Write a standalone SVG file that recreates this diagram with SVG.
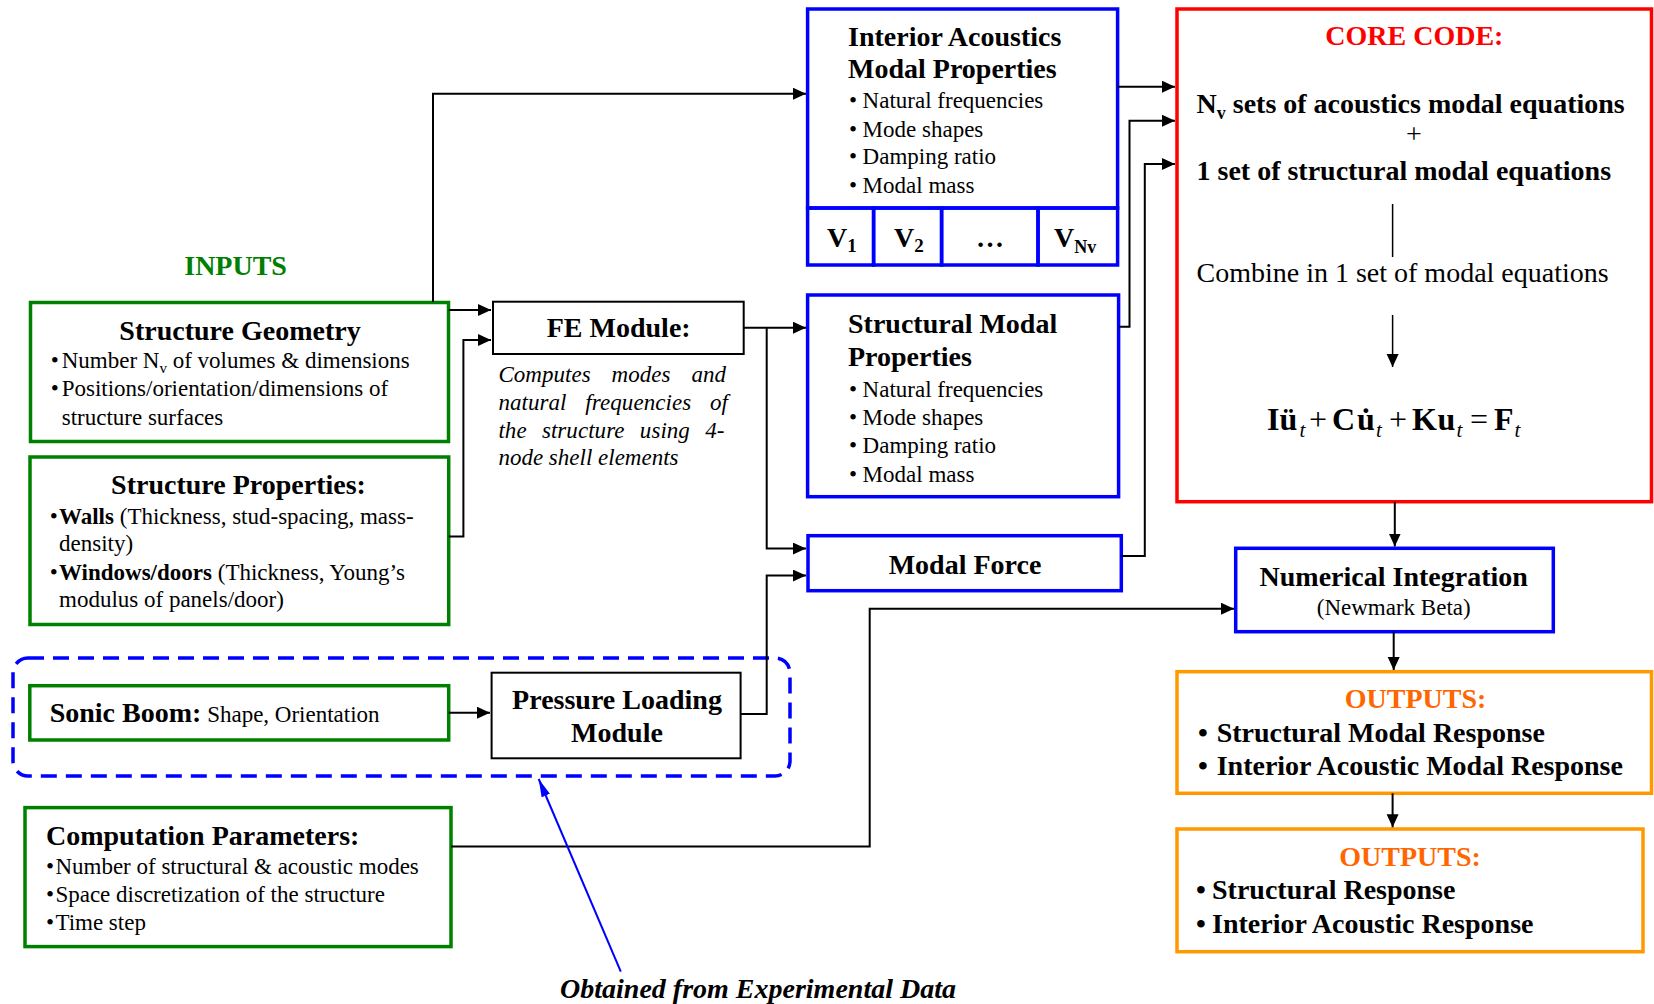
<svg xmlns="http://www.w3.org/2000/svg" width="1654" height="1004" viewBox="0 0 1654 1004">
<style>
text{font-family:"Liberation Serif","Times New Roman",serif;fill:#000}
.t{font-size:28px;font-weight:bold}
.r{font-size:23px}
.r28{font-size:28px}
.it{font-size:23px;font-style:italic}
.b{font-weight:bold}
.eq{font-size:32px;font-weight:bold}
.eo{font-size:32px}
.es{font-size:21px;font-style:italic}
.g{fill:none;stroke:#008000;stroke-width:3.5}
.bl{fill:none;stroke:#0000ff;stroke-width:3.5}
.rd{fill:none;stroke:#ff0000;stroke-width:3.5}
.or{fill:none;stroke:#ff9900;stroke-width:3.5}
.bk{fill:none;stroke:#000;stroke-width:2}
.c{fill:none;stroke:#000;stroke-width:2}
.mid{text-anchor:middle}
</style>
<defs>
<marker id="ah" markerUnits="userSpaceOnUse" markerWidth="14" markerHeight="14" refX="13" refY="6" orient="auto"><path d="M0,0 L13,6 L0,12 z" fill="#000"/></marker>
<marker id="ahb" markerUnits="userSpaceOnUse" markerWidth="20" markerHeight="12" refX="18" refY="4.5" orient="auto"><path d="M0,0 L18,4.5 L0,9 z" fill="#0000ff"/></marker>
</defs>

<text class="t mid" x="235.6" y="275" style="fill:#008000">INPUTS</text>

<g id="structure-geometry">
<rect class="g" x="30.5" y="302.5" width="418" height="139"/>
<text class="t mid" x="240" y="340">Structure Geometry</text>
<text class="r" y="368"><tspan x="50.7">•</tspan><tspan x="61.7">Number N</tspan><tspan font-size="15" dy="5">v</tspan><tspan dy="-5"> of volumes &amp; dimensions</tspan></text>
<text class="r" y="396.3"><tspan x="50.7">•</tspan><tspan x="61.7">Positions/orientation/dimensions of</tspan></text>
<text class="r" x="61.7" y="425">structure surfaces</text>
</g>

<g id="structure-properties">
<rect class="g" x="30" y="457" width="418.7" height="167.5"/>
<text class="t mid" x="238.5" y="494">Structure Properties:</text>
<text class="r" y="523.5"><tspan x="49.7">•</tspan><tspan x="59" class="b">Walls</tspan><tspan> (Thickness, stud-spacing, mass-</tspan></text>
<text class="r" x="59" y="550.8">density)</text>
<text class="r" y="579.6"><tspan x="49.7">•</tspan><tspan x="59" class="b">Windows/doors</tspan><tspan> (Thickness, Young’s</tspan></text>
<text class="r" x="59" y="607">modulus of panels/door)</text>
</g>

<g id="experimental-group">
<rect x="13" y="658" width="777" height="118" rx="15" fill="none" stroke="#0000ff" stroke-width="3.5" stroke-dasharray="16 9"/>
</g>

<g id="sonic-boom">
<rect class="g" x="29.8" y="685.7" width="418.9" height="54.3"/>
<text y="722.4"><tspan x="49.7" class="t">Sonic Boom:</tspan><tspan class="r"> Shape, Orientation</tspan></text>
</g>

<g id="computation-parameters">
<rect class="g" x="25" y="807.6" width="426" height="139"/>
<text class="t" x="46" y="844.7">Computation Parameters:</text>
<text class="r" y="873.5"><tspan x="46">•</tspan><tspan x="55.4">Number of structural &amp; acoustic modes</tspan></text>
<text class="r" y="902"><tspan x="46">•</tspan><tspan x="55.4">Space discretization of the structure</tspan></text>
<text class="r" y="930"><tspan x="46">•</tspan><tspan x="55.4">Time step</tspan></text>
</g>

<g id="fe-module">
<rect class="bk" x="493" y="301.7" width="250.7" height="52.3"/>
<text class="t mid" x="618.7" y="337">FE Module:</text>
<text class="it" x="498.4" y="381.7" word-spacing="15" textLength="227.6" lengthAdjust="spacing">Computes modes and</text>
<text class="it" x="498.4" y="410" word-spacing="13" textLength="229.6" lengthAdjust="spacing">natural frequencies of</text>
<text class="it" x="498.4" y="438" word-spacing="9.5" textLength="226" lengthAdjust="spacing">the structure using 4-</text>
<text class="it" x="498.4" y="465">node shell elements</text>
</g>

<g id="pressure-loading-module">
<rect class="bk" x="491.6" y="672.7" width="249" height="85.6"/>
<text class="t mid" x="617" y="709">Pressure Loading</text>
<text class="t mid" x="617" y="742">Module</text>
</g>

<g id="interior-acoustics">
<rect class="bl" x="807.6" y="9" width="310" height="199"/>
<rect class="bl" x="807.6" y="208" width="66" height="57"/>
<rect class="bl" x="873.6" y="208" width="68" height="57"/>
<rect class="bl" x="941.6" y="208" width="96.4" height="57"/>
<rect class="bl" x="1038" y="208" width="79.6" height="57"/>
<text class="t" x="848" y="45.7">Interior Acoustics</text>
<text class="t" x="848" y="78.3">Modal Properties</text>
<text class="r" y="108.3"><tspan x="849">•</tspan><tspan x="862.6">Natural frequencies</tspan></text>
<text class="r" y="136.7"><tspan x="849">•</tspan><tspan x="862.6">Mode shapes</tspan></text>
<text class="r" y="164.3"><tspan x="849">•</tspan><tspan x="862.6">Damping ratio</tspan></text>
<text class="r" y="192.7"><tspan x="849">•</tspan><tspan x="862.6">Modal mass</tspan></text>
<text class="t" x="827" y="246.7">V<tspan font-size="19" dy="5">1</tspan></text>
<text class="t" x="894" y="246.7">V<tspan font-size="19" dy="5">2</tspan></text>
<text class="t mid" x="990" y="246.7">…</text>
<text class="t" x="1054" y="246.7">V<tspan font-size="18" dy="6">Nv</tspan></text>
</g>

<g id="structural-modal">
<rect class="bl" x="807.6" y="295" width="311" height="201.7"/>
<text class="t" x="848" y="333.3">Structural Modal</text>
<text class="t" x="848" y="366">Properties</text>
<text class="r" y="396.7"><tspan x="849">•</tspan><tspan x="862.6">Natural frequencies</tspan></text>
<text class="r" y="425"><tspan x="849">•</tspan><tspan x="862.6">Mode shapes</tspan></text>
<text class="r" y="453.3"><tspan x="849">•</tspan><tspan x="862.6">Damping ratio</tspan></text>
<text class="r" y="481.7"><tspan x="849">•</tspan><tspan x="862.6">Modal mass</tspan></text>
</g>

<g id="modal-force">
<rect class="bl" x="808" y="535.7" width="313.3" height="55"/>
<text class="t mid" x="965" y="574">Modal Force</text>
</g>

<g id="core-code">
<rect class="rd" x="1177" y="9" width="474.5" height="492.7"/>
<text class="t mid" x="1414.4" y="45" style="fill:#ff0000">CORE CODE:</text>
<text class="t" x="1196.5" y="113.3">N<tspan font-size="18" dy="6">v</tspan><tspan dy="-6"> sets of acoustics modal equations</tspan></text>
<text class="r28 mid" x="1414" y="143">+</text>
<text class="t" x="1196.5" y="180">1 set of structural modal equations</text>
<line x1="1392.6" y1="204" x2="1392.6" y2="257" stroke="#000" stroke-width="1.5"/>
<text class="r28" x="1196.5" y="281.7">Combine in 1 set of modal equations</text>
<line x1="1392.6" y1="315" x2="1392.6" y2="367" stroke="#000" stroke-width="1.5" marker-end="url(#ah)"/>
<text class="eq" x="1267" y="430">Iü</text>
<text class="es" x="1299.5" y="437">t</text>
<text class="eo" x="1309" y="430">+</text>
<text class="eq" x="1332" y="430">C</text>
<text class="eq" x="1357" y="430">u<tspan dx="-14.2">˙</tspan></text>
<text class="es" x="1376" y="437">t</text>
<text class="eo" x="1389" y="430">+</text>
<text class="eq" x="1412" y="430">K</text>
<text class="eq" x="1437.5" y="430">u</text>
<text class="es" x="1456.5" y="437">t</text>
<text class="eo" x="1470" y="430">=</text>
<text class="eq" x="1494" y="430">F</text>
<text class="es" x="1514.5" y="437">t</text>
</g>

<g id="numerical-integration">
<rect class="bl" x="1235.7" y="548.3" width="317.6" height="83.4"/>
<text class="t mid" x="1393.7" y="586">Numerical Integration</text>
<text class="r mid" x="1393.7" y="615">(Newmark Beta)</text>
</g>

<g id="outputs-modal">
<rect class="or" x="1177" y="671.7" width="474.5" height="121.6"/>
<text class="t mid" x="1415.5" y="708.3" style="fill:#ff6600">OUTPUTS:</text>
<text class="t" y="742.3"><tspan x="1198">•</tspan><tspan x="1216.7">Structural Modal Response</tspan></text>
<text class="t" y="775"><tspan x="1198">•</tspan><tspan x="1216.7">Interior Acoustic Modal Response</tspan></text>
</g>

<g id="outputs-response">
<rect class="or" x="1177" y="829" width="466" height="122.7"/>
<text class="t mid" x="1410" y="866" style="fill:#ff6600">OUTPUTS:</text>
<text class="t" y="899.3"><tspan x="1196">•</tspan><tspan x="1212">Structural Response</tspan></text>
<text class="t" y="933.3"><tspan x="1196">•</tspan><tspan x="1212">Interior Acoustic Response</tspan></text>
</g>

<g id="annotation">
<text class="t mid" x="758" y="998" font-style="italic">Obtained from Experimental Data</text>
</g>

<g id="connectors">
<path class="c" d="M433,302 V93.7 H806" marker-end="url(#ah)"/>
<path class="c" d="M448.7,310 H491" marker-end="url(#ah)"/>
<path class="c" d="M448.7,536.4 H463.4 V340 H491" marker-end="url(#ah)"/>
<path class="c" d="M743.7,327.7 H806" marker-end="url(#ah)"/>
<path class="c" d="M766.7,327.7 V548.6 H806" marker-end="url(#ah)"/>
<path class="c" d="M448.7,712.7 H490" marker-end="url(#ah)"/>
<path class="c" d="M740.6,714 H766.7 V575.6 H806" marker-end="url(#ah)"/>
<path class="c" d="M1117.5,86.7 H1175" marker-end="url(#ah)"/>
<path class="c" d="M1119,326.7 H1129.5 V120.7 H1175" marker-end="url(#ah)"/>
<path class="c" d="M1121.3,556 H1144.8 V164 H1175" marker-end="url(#ah)"/>
<path class="c" d="M1394.8,501.7 V546.5" marker-end="url(#ah)"/>
<path class="c" d="M451,846.5 H869.7 V608.7 H1234" marker-end="url(#ah)"/>
<path class="c" d="M1393.7,631.7 V670" marker-end="url(#ah)"/>
<path class="c" d="M1392.6,793.3 V827.3" marker-end="url(#ah)"/>
<path d="M620.8,971.7 L538.7,779" fill="none" stroke="#0000ff" stroke-width="2" marker-end="url(#ahb)"/>
</g>
</svg>
